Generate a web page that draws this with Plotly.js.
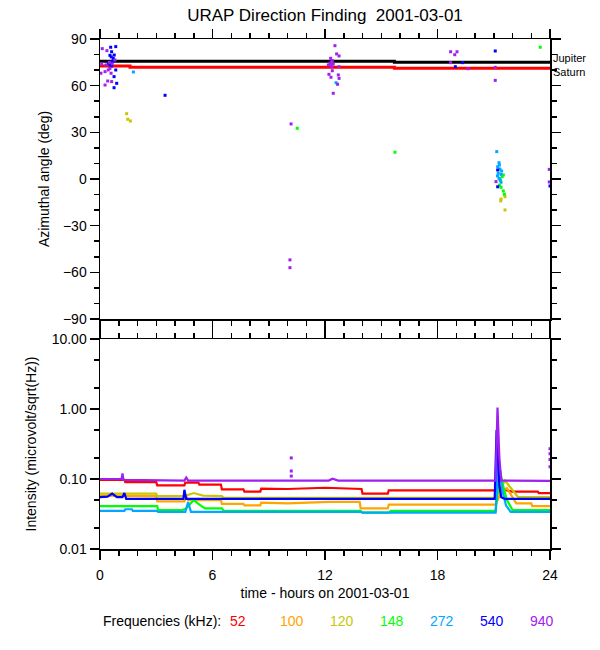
<!DOCTYPE html>
<html>
<head>
<meta charset="utf-8">
<script src="https://cdn.plot.ly/plotly-3.0.1.min.js"></script>
<style>html,body{margin:0;padding:0;background:#fff;}</style>
</head>
<body>
<div id="chart" style="width:600px;height:650px;"></div>
<script>
// ---------- DATA ----------
const freqLabels = ['52', '100', '120', '148', '272', '540', '940'];

// Planet directions (azimuthal angle, deg) vs time (hours)
const jupiterT = [0, 15.7, 15.7, 24];
const jupiterA = [75.7, 75.7, 75.1, 75.1];
const saturnT = [0, 1.6, 1.6, 15.7, 15.7, 24];
const saturnA = [72.6, 72.6, 71.8, 71.8, 71.2, 71.2];

// Direction finding points (hours, azimuth deg)
const df940T = [0.12,0.37,0.8,0.09,0.32,0.53,0.27,0.59,0.41,0.62,0.27,0.44,0.05,0.5,0.65,
  12.53,12.62,12.75,12.3,12.39,12.27,12.44,12.18,12.36,12.75,12.39,12.21,12.32,12.71,12.75,12.67,12.44,12.35,12.3,
  10.19,10.13,10.13,18.70,19.04,18.92,18.70,19.63,21.08,21.08,21.12,23.96,23.96];
const df940A = [83.8,82.5,76.5,73.9,73.3,71.1,69.0,68.0,63.0,62.6,60.4,70.1,68.0,75.0,74.0,
  85.7,80.4,79.1,77.6,76.1,74.4,73.9,73.3,72.2,72.2,69.6,67.3,65.4,66.9,64.7,60.9,55.1,75.0,73.5,
  35.4,-52,-57,81.8,81.8,79.9,74.8,70.9,71.8,63.4,-1.7,6.2,-1.9];
const df540T = [0.57,0.84,0.62,0.53,0.76,0.71,0.66,0.62,0.84,0.75,0.89,0.75,0.44,0.6,0.7,0.55,
  3.47,21.08,19.34,18.95,21.21,21.21,24.0];
const df540A = [84.7,85.1,81.8,79.5,79.7,77.6,75.4,72.6,70.1,65.8,61.5,58.7,74.4,78.5,76.0,73.5,
  53.8,82.3,74.8,72.2,5.8,-5.0,-4.5];
const df272T = [1.78,12.59,21.16,21.28,21.21,21.33,21.42,21.24,21.39,21.39,21.28,21.3,21.2,21.35];
const df272A = [68.8,61.9,17.6,10.5,7.9,6.4,5.1,3.7,3.0,-2.1,0.4,9.0,2.0,-0.8];
const df148T = [10.52,15.73,23.48,21.51,21.33,21.39,21.51,21.57,21.45,21.3];
const df148A = [32.6,17.2,84.7,2.6,0.0,-5.3,-7.7,-9.8,1.5,-4.0];
const df120T = [1.42,1.48,1.62,21.6,21.39,21.37,21.6];
const df120A = [42.0,38.4,37.3,-11.4,-12.9,-14.1,-19.9];

// Intensity (microvolt/sqrt(Hz)) vs time (hours)
const i52T = [0,1.3,1.35,3.0,3.05,4.5,4.55,5.25,5.3,6.45,6.5,7.65,7.7,8.55,8.6,10.0,12.0,13.4,13.95,14.0,15.35,15.4,21.0,21.3,21.6,22.0,23.35,23.4,24];
const i52V = [0.097,0.097,0.090,0.090,0.081,0.081,0.089,0.089,0.083,0.083,0.071,0.071,0.066,0.066,0.073,0.072,0.075,0.072,0.072,0.062,0.062,0.069,0.069,0.075,0.070,0.066,0.066,0.063,0.063];
const i100T = [0,1.3,3.0,3.05,4.5,4.6,4.7,5.3,6.45,6.5,7.65,7.7,8.55,8.6,10.0,12.2,13.85,13.9,15.35,15.4,21.1,21.4,21.7,22.2,23.0,23.05,24];
const i100V = [0.058,0.057,0.057,0.048,0.048,0.056,0.050,0.050,0.050,0.044,0.044,0.042,0.042,0.046,0.045,0.047,0.047,0.038,0.038,0.043,0.043,0.065,0.074,0.045,0.045,0.041,0.041];
const i120T = [0,3.0,3.05,4.5,5.0,5.5,6.5,6.6,21.1,21.4,21.6,21.9,22.3,24];
const i120V = [0.062,0.062,0.057,0.057,0.063,0.058,0.057,0.054,0.054,0.075,0.095,0.075,0.055,0.055];
const i148T = [0,3.05,3.1,4.4,4.6,5.0,5.3,5.6,6.5,6.6,13.9,14.0,15.4,15.5,21.1,21.33,21.5,21.7,22.0,24];
const i148V = [0.041,0.041,0.036,0.036,0.038,0.050,0.043,0.038,0.038,0.035,0.035,0.033,0.033,0.035,0.035,0.135,0.08,0.05,0.036,0.036];
const i272T = [0,1.3,1.35,1.7,1.75,3.05,3.1,4.55,4.7,4.85,13.9,14.0,21.1,21.25,21.45,21.65,21.9,24];
const i272V = [0.035,0.035,0.037,0.037,0.035,0.035,0.034,0.034,0.047,0.034,0.034,0.033,0.033,0.21,0.07,0.042,0.034,0.034];
const i540T = [0,0.4,0.65,0.9,1.2,1.3,1.4,4.45,4.5,4.6,21.05,21.15,21.3,21.4,21.6,24];
const i540V = [0.055,0.056,0.062,0.055,0.055,0.063,0.052,0.052,0.070,0.052,0.052,0.5,0.08,0.055,0.052,0.052];
const i940T = [0,1.15,1.2,1.25,4.5,4.6,4.7,10.0,12.2,12.4,12.7,21.1,21.2,21.3,21.4,23.9,24.0];
const i940V = [0.100,0.100,0.120,0.097,0.095,0.105,0.095,0.095,0.095,0.101,0.095,0.095,1.05,0.2,0.095,0.094,0.094];
const i940xT = [10.2,10.2,10.2,24.0,24.0,24.0,24.0];
const i940xV = [0.20,0.13,0.11,0.27,0.23,0.19,0.15];

// ---------- STYLE ----------
const colors = {'52':'#ff0000','100':'#ffa500','120':'#c8c800','148':'#00ff00','272':'#00a8ff','540':'#0000ff','940':'#a020f0'};
const FONT = 'Liberation Sans, Arial, Helvetica, sans-serif';

const traces = [];
// Bottom panel lines
const series = [['52',i52T,i52V],['100',i100T,i100V],['120',i120T,i120V],['148',i148T,i148V],['272',i272T,i272V],['540',i540T,i540V],['940',i940T,i940V]];
series.forEach(s => traces.push({x:s[1], y:s[2], xaxis:'x', yaxis:'y', mode:'lines', line:{color:colors[s[0]], width:2.2}, name:s[0]+' kHz', hoverinfo:'x+y'}));
traces.push({x:i940xT, y:i940xV, xaxis:'x', yaxis:'y', mode:'markers', marker:{color:colors['940'], size:3, symbol:'square'}, name:'940 kHz'});

// Top panel planets
traces.push({x:jupiterT, y:jupiterA, xaxis:'x2', yaxis:'y2', mode:'lines', line:{color:'black', width:3}, name:'Jupiter'});
traces.push({x:saturnT, y:saturnA, xaxis:'x2', yaxis:'y2', mode:'lines', line:{color:'#ff0000', width:3}, name:'Saturn'});
// Top panel DF points
[['120',df120T,df120A],['148',df148T,df148A],['272',df272T,df272A],['540',df540T,df540A],['940',df940T,df940A]].forEach(s =>
  traces.push({x:s[1], y:s[2], xaxis:'x2', yaxis:'y2', mode:'markers', marker:{color:colors[s[0]], size:3, symbol:'square'}, name:s[0]+' kHz'}));

const axisCommon = {showline:true, linecolor:'black', linewidth:1.5, ticks:'outside', tickcolor:'black', tickwidth:1.5, ticklen:9,
  mirror:'ticks', showgrid:false, zeroline:false, tickfont:{size:14, color:'black'}};

// plot area: x 100..550, y 39..549
const py = p => (549 - p) / 510;
const px = p => (p - 100) / 450;
const legendX = [238, 292, 342, 392, 442, 492, 542];

const annotations = [
  {text:'Frequencies (kHz):', xref:'paper', yref:'paper', x:px(101), y:py(621), xanchor:'left', yanchor:'middle', showarrow:false, font:{size:14, color:'black'}},
  {text:'Jupiter', xref:'x2', yref:'y2', x:24, y:jupiterA[jupiterA.length-1], xanchor:'left', yanchor:'middle', xshift:1, yshift:4, showarrow:false, font:{size:11, color:'black'}},
  {text:'Saturn', xref:'x2', yref:'y2', x:24, y:saturnA[saturnA.length-1], xanchor:'left', yanchor:'middle', xshift:1, yshift:-4, showarrow:false, font:{size:11, color:'black'}}
];
freqLabels.forEach((f, i) => annotations.push({text:f, xref:'paper', yref:'paper', x:px(legendX[i]), y:py(621), xanchor:'center', yanchor:'middle', showarrow:false, font:{size:14, color:colors[f]}}));

const layout = {
  width:600, height:650,
  margin:{l:100, r:50, t:39, b:101, pad:0},
  paper_bgcolor:'white', plot_bgcolor:'white',
  showlegend:false,
  font:{family:FONT, size:14, color:'black'},
  title:{text:'URAP Direction Finding \u00a02001-03-01', x:0.5, xanchor:'center', xref:'paper', y:1 - 15/650, yanchor:'middle', font:{size:17, color:'black'}},
  xaxis:Object.assign({}, axisCommon, {domain:[0,1], anchor:'y', range:[0,24], tickvals:[0,6,12,18,24], ticklabelstandoff:4,
    minor:{dtick:1, tick0:0, ticks:'outside', ticklen:5, tickwidth:1.5, tickcolor:'black'},
    title:{text:'time - hours on 2001-03-01', font:{size:14}, standoff:6}}),
  xaxis2:Object.assign({}, axisCommon, {domain:[0,1], anchor:'y2', range:[0,24], tickvals:[0,6,12,18,24], showticklabels:false, matches:'x',
    minor:{dtick:1, tick0:0, ticks:'outside', ticklen:5, tickwidth:1.5, tickcolor:'black'}}),
  yaxis:Object.assign({}, axisCommon, {domain:[0, py(339)], anchor:'x', type:'log', range:[-2, 1],
    tickvals:[0.01, 0.1, 1, 10], ticktext:['0.01','0.10','1.00','10.00'],
    minor:{tickmode:'array', tickvals:[0.02,0.05,0.2,0.5,2,5], ticks:'outside', ticklen:5, tickwidth:1.5, tickcolor:'black'},
    title:{text:'Intensity (microvolt/sqrt(Hz))', font:{size:14}, standoff:12}}),
  yaxis2:Object.assign({}, axisCommon, {domain:[py(319), 1], anchor:'x2', range:[-90, 90],
    tickvals:[-90,-60,-30,0,30,60,90],
    minor:{dtick:10, tick0:0, ticks:'outside', ticklen:5, tickwidth:1.5, tickcolor:'black'},
    title:{text:'Azimuthal angle (deg)', font:{size:14}, standoff:10}}),
  annotations:annotations
};

Plotly.newPlot('chart', traces, layout, {displayModeBar:false, staticPlot:true});
</script>
</body>
</html>
